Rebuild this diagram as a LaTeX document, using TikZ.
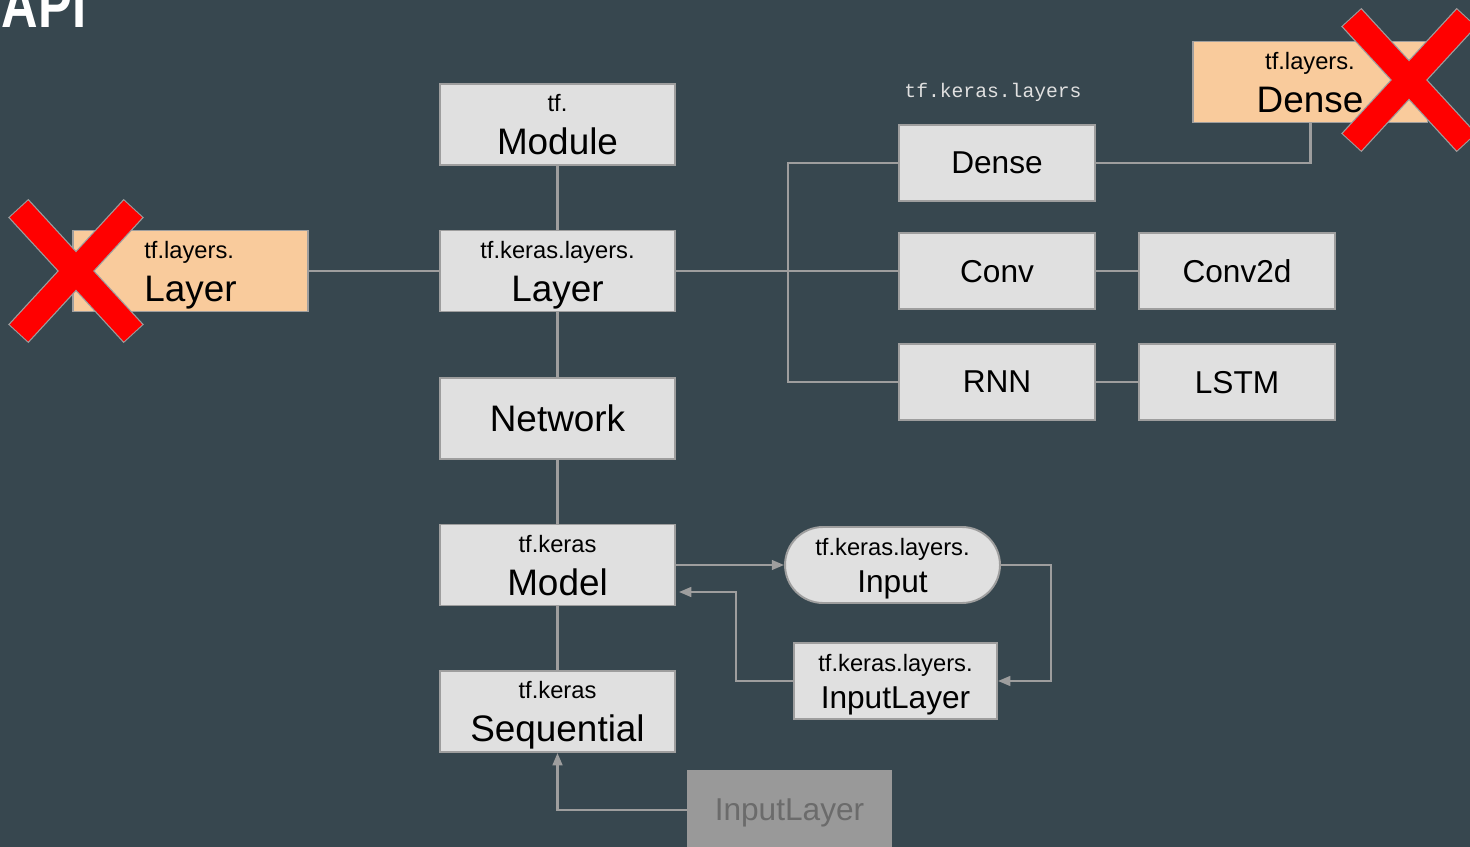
\documentclass[tikz,border=0pt]{standalone}
\usepackage{fontspec}
\setmainfont{Liberation Sans}
\setmonofont{Liberation Mono}
\usetikzlibrary{shapes.misc,arrows.meta,calc}

\definecolor{slate}{HTML}{37474F}
\definecolor{boxgray}{HTML}{E0E0E0}
\definecolor{edgegray}{HTML}{9E9E9E}
\definecolor{peach}{HTML}{F9CB9C}
\definecolor{dimgray}{HTML}{999999}
\definecolor{dimtext}{HTML}{6B6B6B}
\definecolor{crossred}{HTML}{FF0000}

\newcommand{\modpath}[1]{{\fontsize{13.5}{14}\selectfont #1}}

\tikzset{
  box/.style={draw=edgegray, line width=1.1pt, fill=boxgray, inner sep=0pt, text depth=0pt, align=center},
  mainbox/.style={box, minimum width=4.7cm, minimum height=1.62cm, font=\fontsize{21}{24.4}\selectfont},
  kbox/.style={box, minimum width=3.92cm, minimum height=1.52cm, font=\fontsize{18}{21}\selectfont},
  conn/.style={draw=edgegray, line width=1.4pt},
  spine/.style={draw=edgegray, line width=2.2pt},
  arr/.style={conn, line width=1.3pt, -{Triangle[length=7pt,width=5.5pt]}}
}

\begin{document}
\begin{tikzpicture}[x=0.02cm,y=-0.02cm]
  \useasboundingbox (0,0) rectangle (1470,847);
  \clip (0,0) rectangle (1470,847);
  \fill[slate] (0,0) rectangle (1470,847);
  \node[anchor=base west, text=white, xscale=0.8, font=\bfseries\fontsize{36}{36}\selectfont] (title) at (-3,28) {API};

  \node[mainbox] (module) at (557.5,124.5) {\modpath{tf.}\\Module};
  \node[mainbox] (layer) at (557.5,271) {\modpath{tf.keras.layers.}\\Layer};
  \node[mainbox] (network) at (557.5,418.5) {Network};
  \node[mainbox] (model) at (557.5,565) {\modpath{tf.keras}\\Model};
  \node[mainbox] (seq) at (557.5,711.5) {\modpath{tf.keras}\\Sequential};
  \node[mainbox, fill=peach, align=left] (oldlayer) at (190.5,271) {\modpath{tf.layers.}\\Layer};
  \node[mainbox, fill=peach] (olddense) at (1310,82) {\modpath{tf.layers.}\\Dense};

  \node[text=boxgray, font=\ttfamily\fontsize{11.2}{12}\selectfont] (kerasns) at (993,92) {tf.keras.layers};
  \node[kbox] (dense) at (997,163) {Dense};
  \node[kbox] (conv) at (997,271) {Conv};
  \node[kbox] (conv2d) at (1237,271) {Conv2d};
  \node[kbox] (rnn) at (997,382) {RNN};
  \node[kbox] (lstm) at (1237,382) {LSTM};

  \node[kbox, rounded rectangle, minimum width=4.3cm] (input) at (892.5,565) {\modpath{tf.keras.layers.}\\Input};
  \node[kbox, minimum width=4.06cm] (inlayer) at (895.5,681) {\modpath{tf.keras.layers.}\\InputLayer};
  \node[kbox, draw=dimgray, fill=dimgray, text=dimtext, minimum width=4.06cm, minimum height=1.56cm] (oldinput) at (789.5,810) {InputLayer};

  \coordinate (branch) at (788,271);

  \draw[spine] (module) -- (layer);
  \draw[spine] (layer) -- (network);
  \draw[spine] (network) -- (model);
  \draw[spine] (model) -- (seq);
  \draw[conn, line width=1.7pt] (oldlayer) -- (layer);
  \draw[conn] (layer) -- (conv);
  \draw[conn] (dense.west) -| (branch) |- (rnn.west);
  \draw[conn, line width=1.7pt] (dense.east) -| (olddense.south);
  \draw[conn] (conv) -- (conv2d);
  \draw[conn] (rnn) -- (lstm);

  \draw[arr] (model.east) -- (input.west);
  \draw[arr] (input.east) -- ++(50,0) |- (inlayer.east);
  \draw[arr] (inlayer.west) -- ++(-57,0) |- ($(model.east)+(3,27)$);
  \draw[arr] (oldinput.west) -| (seq.south);

  \foreach \cx/\cy in {76/271, 1409/80} {
    \draw[edgegray, line width=15.6pt, shorten <=-0.6pt, shorten >=-0.6pt] (\cx-57,\cy-62) -- (\cx+57,\cy+62);
    \draw[edgegray, line width=15.6pt, shorten <=-0.6pt, shorten >=-0.6pt] (\cx+57,\cy-62) -- (\cx-57,\cy+62);
    \draw[crossred, line width=14.2pt] (\cx-57,\cy-62) -- (\cx+57,\cy+62);
    \draw[crossred, line width=14.2pt] (\cx+57,\cy-62) -- (\cx-57,\cy+62);
  }
\end{tikzpicture}
\end{document}
